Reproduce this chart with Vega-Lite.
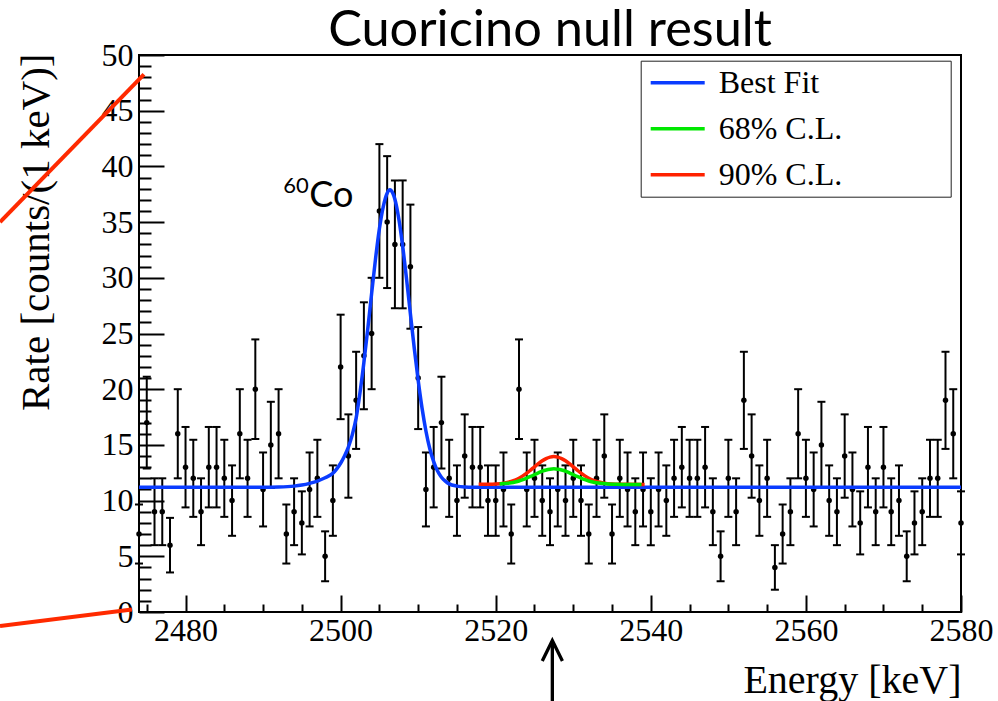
{
  "$schema": "https://vega.github.io/schema/vega-lite/v6.json",
  "width": 822,
  "height": 557,
  "autosize": {"type": "none"},
  "padding": {"left": 139, "top": 55, "right": 37, "bottom": 89},
  "background": "white",
  "title": {"text": "Cuoricino null result", "font": "Lato", "fontSize": 50.5, "fontWeight": "normal", "color": "black", "anchor": "middle", "baseline": "alphabetic", "offset": 9, "dy": 66},
  "datasets": {
    "points": [
      {"e":2474,"n":7,"lo":4.35,"hi":9.65},{"e":2475,"n":17,"lo":12.88,"hi":21.12},{"e":2476,"n":9,"lo":6,"hi":12},{"e":2477,"n":9,"lo":6,"hi":12},
      {"e":2478,"n":6,"lo":3.55,"hi":8.45},{"e":2479,"n":16,"lo":12,"hi":20},{"e":2480,"n":13,"lo":9.39,"hi":16.61},{"e":2481,"n":12,"lo":8.54,"hi":15.46},
      {"e":2482,"n":9,"lo":6,"hi":12},{"e":2483,"n":13,"lo":9.39,"hi":16.61},{"e":2484,"n":13,"lo":9.39,"hi":16.61},{"e":2485,"n":12,"lo":8.54,"hi":15.46},
      {"e":2486,"n":10,"lo":6.84,"hi":13.16},{"e":2487,"n":16,"lo":12,"hi":20},{"e":2488,"n":12,"lo":8.54,"hi":15.46},{"e":2489,"n":20,"lo":15.53,"hi":24.47},
      {"e":2490,"n":11,"lo":7.68,"hi":14.32},{"e":2491,"n":15,"lo":11.13,"hi":18.87},{"e":2492,"n":16,"lo":12,"hi":20},{"e":2493,"n":7,"lo":4.35,"hi":9.65},
      {"e":2494,"n":9,"lo":6,"hi":12},{"e":2495,"n":8,"lo":5.17,"hi":10.83},{"e":2496,"n":11,"lo":7.68,"hi":14.32},{"e":2497,"n":12,"lo":8.54,"hi":15.46},
      {"e":2498,"n":5,"lo":2.76,"hi":7.24},{"e":2499,"n":10,"lo":6.84,"hi":13.16},{"e":2500,"n":22,"lo":17.31,"hi":26.69},{"e":2501,"n":14,"lo":10.26,"hi":17.74},
      {"e":2502,"n":19,"lo":14.64,"hi":23.36},{"e":2503,"n":23,"lo":18.2,"hi":27.8},{"e":2504,"n":25,"lo":20,"hi":30},{"e":2505,"n":36,"lo":30,"hi":42},
      {"e":2506,"n":35,"lo":29.08,"hi":40.92},{"e":2507,"n":33,"lo":27.26,"hi":38.74},{"e":2508,"n":33,"lo":27.26,"hi":38.74},{"e":2509,"n":31,"lo":25.43,"hi":36.57},
      {"e":2510,"n":21,"lo":16.42,"hi":25.58},{"e":2511,"n":11,"lo":7.68,"hi":14.32},{"e":2512,"n":13,"lo":9.39,"hi":16.61},{"e":2513,"n":17,"lo":12.88,"hi":21.12},
      {"e":2514,"n":12,"lo":8.54,"hi":15.46},{"e":2515,"n":10,"lo":6.84,"hi":13.16},{"e":2516,"n":14,"lo":10.26,"hi":17.74},{"e":2517,"n":13,"lo":9.39,"hi":16.61},
      {"e":2518,"n":13,"lo":9.39,"hi":16.61},{"e":2519,"n":10,"lo":6.84,"hi":13.16},{"e":2520,"n":10,"lo":6.84,"hi":13.16},{"e":2521,"n":11,"lo":7.68,"hi":14.32},
      {"e":2522,"n":7,"lo":4.35,"hi":9.65},{"e":2523,"n":20,"lo":15.53,"hi":24.47},{"e":2524,"n":11,"lo":7.68,"hi":14.32},{"e":2525,"n":12,"lo":8.54,"hi":15.46},
      {"e":2526,"n":10,"lo":6.84,"hi":13.16},{"e":2527,"n":9,"lo":6,"hi":12},{"e":2528,"n":11,"lo":7.68,"hi":14.32},{"e":2529,"n":10,"lo":6.84,"hi":13.16},
      {"e":2530,"n":12,"lo":8.54,"hi":15.46},{"e":2531,"n":10,"lo":6.84,"hi":13.16},{"e":2532,"n":7,"lo":4.35,"hi":9.65},{"e":2533,"n":12,"lo":8.54,"hi":15.46},
      {"e":2534,"n":14,"lo":10.26,"hi":17.74},{"e":2535,"n":7,"lo":4.35,"hi":9.65},{"e":2536,"n":12,"lo":8.54,"hi":15.46},{"e":2537,"n":11,"lo":7.68,"hi":14.32},
      {"e":2538,"n":9,"lo":6,"hi":12},{"e":2539,"n":11,"lo":7.68,"hi":14.32},{"e":2540,"n":9,"lo":6,"hi":12},{"e":2541,"n":11,"lo":7.68,"hi":14.32},
      {"e":2542,"n":10,"lo":6.84,"hi":13.16},{"e":2543,"n":12,"lo":8.54,"hi":15.46},{"e":2544,"n":13,"lo":9.39,"hi":16.61},{"e":2545,"n":12,"lo":8.54,"hi":15.46},
      {"e":2546,"n":12,"lo":8.54,"hi":15.46},{"e":2547,"n":13,"lo":9.39,"hi":16.61},{"e":2548,"n":9,"lo":6,"hi":12},{"e":2549,"n":5,"lo":2.76,"hi":7.24},
      {"e":2550,"n":12,"lo":8.54,"hi":15.46},{"e":2551,"n":9,"lo":6,"hi":12},{"e":2552,"n":19,"lo":14.64,"hi":23.36},{"e":2553,"n":14,"lo":10.26,"hi":17.74},
      {"e":2554,"n":10,"lo":6.84,"hi":13.16},{"e":2555,"n":12,"lo":8.54,"hi":15.46},{"e":2556,"n":4,"lo":2,"hi":6},{"e":2557,"n":7,"lo":4.35,"hi":9.65},
      {"e":2558,"n":9,"lo":6,"hi":12},{"e":2559,"n":16,"lo":12,"hi":20},{"e":2560,"n":12,"lo":8.54,"hi":15.46},{"e":2561,"n":11,"lo":7.68,"hi":14.32},
      {"e":2562,"n":15,"lo":11.13,"hi":18.87},{"e":2563,"n":10,"lo":6.84,"hi":13.16},{"e":2564,"n":9,"lo":6,"hi":12},{"e":2565,"n":14,"lo":10.26,"hi":17.74},
      {"e":2566,"n":11,"lo":7.68,"hi":14.32},{"e":2567,"n":8,"lo":5.17,"hi":10.83},{"e":2568,"n":13,"lo":9.39,"hi":16.61},{"e":2569,"n":9,"lo":6,"hi":12},
      {"e":2570,"n":13,"lo":9.39,"hi":16.61},{"e":2571,"n":9,"lo":6,"hi":12},{"e":2572,"n":10,"lo":6.84,"hi":13.16},{"e":2573,"n":5,"lo":2.76,"hi":7.24},
      {"e":2574,"n":8,"lo":5.17,"hi":10.83},{"e":2575,"n":9,"lo":6,"hi":12},{"e":2576,"n":12,"lo":8.54,"hi":15.46},{"e":2577,"n":12,"lo":8.54,"hi":15.46},
      {"e":2578,"n":19,"lo":14.64,"hi":23.36},{"e":2579,"n":16,"lo":12,"hi":20},{"e":2580,"n":8,"lo":5.17,"hi":10.83}
    ],
    "curves": [
      {"s":"Best Fit","e":2474,"r":11.2},{"s":"Best Fit","e":2490,"r":11.2},{"s":"Best Fit","e":2492,"r":11.22},{"s":"Best Fit","e":2494,"r":11.3},
      {"s":"Best Fit","e":2495,"r":11.4},{"s":"Best Fit","e":2496,"r":11.55},{"s":"Best Fit","e":2497,"r":11.75},{"s":"Best Fit","e":2498,"r":12.05},
      {"s":"Best Fit","e":2499,"r":12.45},{"s":"Best Fit","e":2499.5,"r":12.85},{"s":"Best Fit","e":2500,"r":13.35},{"s":"Best Fit","e":2500.5,"r":14.0},
      {"s":"Best Fit","e":2501,"r":14.8},{"s":"Best Fit","e":2501.5,"r":15.9},{"s":"Best Fit","e":2502,"r":17.4},{"s":"Best Fit","e":2502.5,"r":19.7},
      {"s":"Best Fit","e":2503,"r":22.4},{"s":"Best Fit","e":2503.5,"r":25.4},{"s":"Best Fit","e":2504,"r":28.6},{"s":"Best Fit","e":2504.5,"r":31.7},
      {"s":"Best Fit","e":2505,"r":34.4},{"s":"Best Fit","e":2505.5,"r":36.4},{"s":"Best Fit","e":2506,"r":37.6},{"s":"Best Fit","e":2506.35,"r":37.9},
      {"s":"Best Fit","e":2506.5,"r":37.85},{"s":"Best Fit","e":2507,"r":37.05},{"s":"Best Fit","e":2507.5,"r":35.3},{"s":"Best Fit","e":2508,"r":32.85},
      {"s":"Best Fit","e":2508.5,"r":29.9},{"s":"Best Fit","e":2509,"r":26.75},{"s":"Best Fit","e":2509.5,"r":23.65},{"s":"Best Fit","e":2510,"r":20.8},
      {"s":"Best Fit","e":2510.5,"r":18.3},{"s":"Best Fit","e":2511,"r":16.25},{"s":"Best Fit","e":2511.5,"r":14.65},{"s":"Best Fit","e":2512,"r":13.5},
      {"s":"Best Fit","e":2512.5,"r":12.65},{"s":"Best Fit","e":2513,"r":12.1},{"s":"Best Fit","e":2513.5,"r":11.75},{"s":"Best Fit","e":2514,"r":11.5},
      {"s":"Best Fit","e":2515,"r":11.3},{"s":"Best Fit","e":2516,"r":11.22},{"s":"Best Fit","e":2517,"r":11.2},{"s":"Best Fit","e":2580,"r":11.2},
      {"s":"90% C.L.","e":2517.8,"r":11.46},{"s":"90% C.L.","e":2519,"r":11.47},{"s":"90% C.L.","e":2520,"r":11.5},{"s":"90% C.L.","e":2521,"r":11.57},
      {"s":"90% C.L.","e":2522,"r":11.72},{"s":"90% C.L.","e":2522.5,"r":11.84},{"s":"90% C.L.","e":2523,"r":12.01},{"s":"90% C.L.","e":2523.5,"r":12.22},
      {"s":"90% C.L.","e":2524,"r":12.46},{"s":"90% C.L.","e":2524.5,"r":12.74},{"s":"90% C.L.","e":2525,"r":13.03},{"s":"90% C.L.","e":2525.5,"r":13.31},
      {"s":"90% C.L.","e":2526,"r":13.57},{"s":"90% C.L.","e":2526.5,"r":13.77},{"s":"90% C.L.","e":2527,"r":13.9},{"s":"90% C.L.","e":2527.5,"r":13.95},
      {"s":"90% C.L.","e":2528,"r":13.9},{"s":"90% C.L.","e":2528.5,"r":13.77},{"s":"90% C.L.","e":2529,"r":13.57},{"s":"90% C.L.","e":2529.5,"r":13.31},
      {"s":"90% C.L.","e":2530,"r":13.03},{"s":"90% C.L.","e":2530.5,"r":12.74},{"s":"90% C.L.","e":2531,"r":12.46},{"s":"90% C.L.","e":2531.5,"r":12.22},
      {"s":"90% C.L.","e":2532,"r":12.01},{"s":"90% C.L.","e":2532.5,"r":11.84},{"s":"90% C.L.","e":2533,"r":11.72},{"s":"90% C.L.","e":2534,"r":11.57},
      {"s":"90% C.L.","e":2535,"r":11.5},{"s":"90% C.L.","e":2536,"r":11.47},{"s":"90% C.L.","e":2537,"r":11.46},{"s":"90% C.L.","e":2539.2,"r":11.45},
      {"s":"68% C.L.","e":2520.5,"r":11.49},{"s":"68% C.L.","e":2521.5,"r":11.55},{"s":"68% C.L.","e":2522,"r":11.6},{"s":"68% C.L.","e":2522.5,"r":11.67},
      {"s":"68% C.L.","e":2523,"r":11.76},{"s":"68% C.L.","e":2523.5,"r":11.88},{"s":"68% C.L.","e":2524,"r":12.02},{"s":"68% C.L.","e":2524.5,"r":12.17},
      {"s":"68% C.L.","e":2525,"r":12.33},{"s":"68% C.L.","e":2525.5,"r":12.49},{"s":"68% C.L.","e":2526,"r":12.64},{"s":"68% C.L.","e":2526.5,"r":12.75},
      {"s":"68% C.L.","e":2527,"r":12.82},{"s":"68% C.L.","e":2527.5,"r":12.85},{"s":"68% C.L.","e":2528,"r":12.82},{"s":"68% C.L.","e":2528.5,"r":12.75},
      {"s":"68% C.L.","e":2529,"r":12.64},{"s":"68% C.L.","e":2529.5,"r":12.49},{"s":"68% C.L.","e":2530,"r":12.33},{"s":"68% C.L.","e":2530.5,"r":12.17},
      {"s":"68% C.L.","e":2531,"r":12.02},{"s":"68% C.L.","e":2531.5,"r":11.88},{"s":"68% C.L.","e":2532,"r":11.76},{"s":"68% C.L.","e":2532.5,"r":11.67},
      {"s":"68% C.L.","e":2533,"r":11.6},{"s":"68% C.L.","e":2533.5,"r":11.55},{"s":"68% C.L.","e":2534.5,"r":11.49},{"s":"68% C.L.","e":2535.5,"r":11.46},
      {"s":"68% C.L.","e":2538.8,"r":11.45}
    ],
    "redlines": [
      {"id":"upper","e":2456.08,"r":35.01},{"id":"upper","e":2474.64,"r":48.27},
      {"id":"lower","e":2456.08,"r":-1.26},{"id":"lower","e":2473.1,"r":0.22}
    ],
    "arrow": [
      {"id":"shaft","e":2527.3,"r":-2.6},{"id":"shaft","e":2527.3,"r":-8.4},
      {"id":"head","e":2526.0,"r":-4.4},{"id":"head","e":2527.3,"r":-2.55},{"id":"head","e":2528.6,"r":-4.4}
    ],
    "labels": [
      {"e":2492.6,"r":37.6,"t":"60"},
      {"e":2495.96,"r":36.38,"t":"Co"}
    ]
  },
  "encoding": {
    "x": {
      "field": "e", "type": "quantitative",
      "scale": {"domain": [2474, 2580], "nice": false, "zero": false},
      "axis": {
        "title": "Energy [keV]",
        "values": [2475,2480,2485,2490,2495,2500,2505,2510,2515,2520,2525,2530,2535,2540,2545,2550,2555,2560,2565,2570,2575,2580],
        "tickCount": 200,
        "format": "d",
        "labelExpr": "datum.value % 20 === 0 ? datum.label : ''",
        "labelOverlap": false,
        "tickSize": {"condition": {"test": "datum.value % 20 === 0", "value": -17}, "value": -8},
        "labelPadding": 20,
        "titleX": 822, "titleY": 80, "titleAlign": "right", "titleBaseline": "alphabetic"
      }
    }
  },
  "layer": [
    {
      "data": {"name": "points"},
      "mark": {"type": "rule", "color": "black", "strokeWidth": 2},
      "encoding": {
        "y": {
          "field": "lo", "type": "quantitative",
          "scale": {"domain": [0, 50], "nice": false, "zero": false},
          "title": "Rate [counts/(1 keV)]",
          "axis": {
            "title": "Rate [counts/(1 keV)]",
            "values": [0,1,2,3,4,5,6,7,8,9,10,11,12,13,14,15,16,17,18,19,20,21,22,23,24,25,26,27,28,29,30,31,32,33,34,35,36,37,38,39,40,41,42,43,44,45,46,47,48,49,50],
            "tickCount": 200,
            "format": "d",
            "labelExpr": "datum.value % 5 === 0 ? datum.label : ''",
            "labelOverlap": false,
            "tickSize": {"condition": {"test": "datum.value % 5 === 0", "value": -25}, "value": -12},
            "labelPadding": 31,
            "titleFontSize": 41,
            "titleX": -91, "titleY": -2, "titleAngle": -90, "titleAlign": "right", "titleBaseline": "alphabetic"
          }
        },
        "y2": {"field": "hi"}
      }
    },
    {
      "data": {"name": "points"},
      "mark": {"type": "tick", "orient": "horizontal", "size": 8, "thickness": 2, "color": "black", "opacity": 1},
      "encoding": {"y": {"field": "lo", "type": "quantitative", "title": "Rate [counts/(1 keV)]"}}
    },
    {
      "data": {"name": "points"},
      "mark": {"type": "tick", "orient": "horizontal", "size": 8, "thickness": 2, "color": "black", "opacity": 1},
      "encoding": {"y": {"field": "hi", "type": "quantitative", "title": "Rate [counts/(1 keV)]"}}
    },
    {
      "data": {"name": "points"},
      "mark": {"type": "point", "filled": true, "size": 30, "color": "black", "opacity": 1},
      "encoding": {"y": {"field": "n", "type": "quantitative", "title": "Rate [counts/(1 keV)]"}}
    },
    {
      "data": {"name": "curves"},
      "mark": {"type": "line", "strokeWidth": 3.5, "interpolate": "monotone"},
      "encoding": {
        "y": {"field": "r", "type": "quantitative", "title": "Rate [counts/(1 keV)]"},
        "color": {
          "field": "s", "type": "nominal",
          "scale": {"domain": ["Best Fit", "68% C.L.", "90% C.L."], "range": ["#0a3cff", "#00e800", "#ff2200"]},
          "legend": {
            "title": null,
            "orient": "none", "legendX": 501.7, "legendY": 5.7,
            "strokeColor": "#222222",
            "padding": 4,
            "clipHeight": 36,
            "symbolType": "stroke", "symbolSize": 2916, "symbolStrokeWidth": 3.5,
            "labelFont": "Liberation Serif", "labelFontSize": 32, "labelColor": "black",
            "labelOffset": 12, "rowPadding": 10, "labelLimit": 400,
            "symbolOffset": 4,
            "labelExpr": "datum.label + '             \u200b'"
          }
        }
      }
    },
    {
      "data": {"name": "labels"},
      "transform": [{"filter": "datum.t === '60'"}],
      "mark": {"type": "text", "font": "Lato", "fontSize": 22, "align": "left", "baseline": "alphabetic", "color": "black"},
      "encoding": {"y": {"field": "r", "type": "quantitative", "title": "Rate [counts/(1 keV)]"}, "text": {"field": "t"}}
    },
    {
      "data": {"name": "labels"},
      "transform": [{"filter": "datum.t === 'Co'"}],
      "mark": {"type": "text", "font": "Lato", "fontSize": 36, "align": "left", "baseline": "alphabetic", "color": "black"},
      "encoding": {"y": {"field": "r", "type": "quantitative", "title": "Rate [counts/(1 keV)]"}, "text": {"field": "t"}}
    },
    {
      "data": {"name": "redlines"},
      "mark": {"type": "line", "color": "#ff2a00", "strokeWidth": 4},
      "encoding": {"y": {"field": "r", "type": "quantitative", "title": "Rate [counts/(1 keV)]"}, "detail": {"field": "id"}}
    },
    {
      "data": {"name": "arrow"},
      "mark": {"type": "line", "color": "black", "strokeWidth": 3.3},
      "encoding": {"y": {"field": "r", "type": "quantitative", "title": "Rate [counts/(1 keV)]"}, "detail": {"field": "id"}}
    }
  ],
  "config": {
    "font": "Liberation Serif",
    "view": {"stroke": "black", "strokeWidth": 2},
    "axis": {
      "domain": false, "grid": false,
      "tickColor": "black", "tickWidth": 2,
      "labelFont": "Liberation Serif", "labelFontSize": 32, "labelColor": "black",
      "labelOverlap": false, "labelFlush": false,
      "titleFont": "Liberation Serif", "titleFontSize": 40, "titleFontWeight": "normal", "titleColor": "black"
    }
  }
}
